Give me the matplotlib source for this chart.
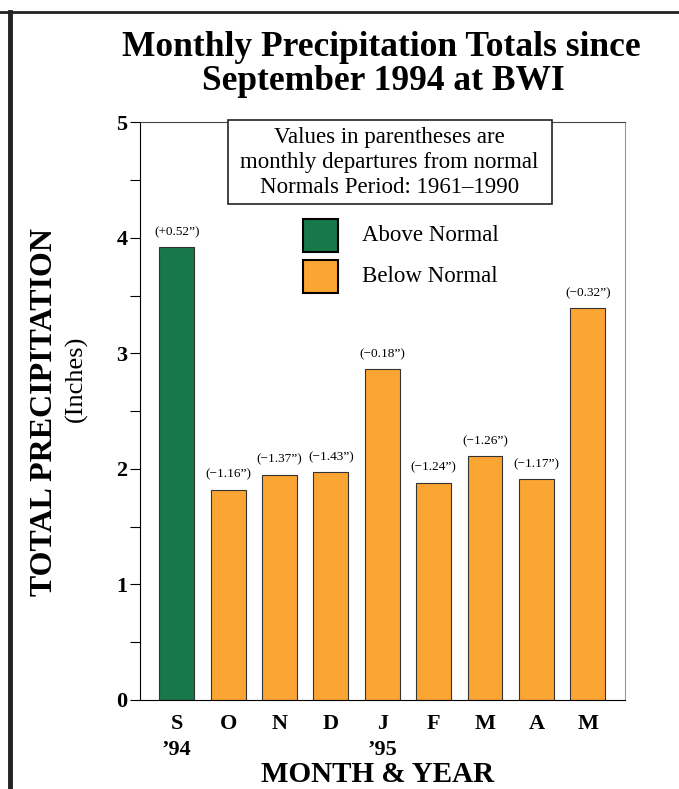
import matplotlib.pyplot as plt
from matplotlib.lines import Line2D
from matplotlib.patches import Rectangle

months = ['S', 'O', 'N', 'D', 'J', 'F', 'M', 'A', 'M']
years = {0: "\u201994", 4: "\u201995"}
totals = [3.92, 1.82, 1.95, 1.97, 2.86, 1.88, 2.11, 1.91, 3.39]
departures = ['+0.52', '\u22121.16', '\u22121.37', '\u22121.43', '\u22120.18',
              '\u22121.24', '\u22121.26', '\u22121.17', '\u22120.32']
above = [True, False, False, False, False, False, False, False, False]
note = ['Values in parentheses are', 'monthly departures from normal',
        'Normals Period: 1961\u20131990']

green = '#17784a'
orange = '#fba533'
serif = ['Liberation Serif', 'DejaVu Serif']

fig = plt.figure(figsize=(6.79, 7.89), dpi=100)
ax = fig.add_axes([0.206, 0.113, 0.714, 0.732])

x = list(range(len(months)))
cols = [green if a else orange for a in above]
bars = ax.bar(x, totals, width=0.68, color=cols, edgecolor='#333333', linewidth=0.8)

for b, d in zip(bars, departures):
    ax.text(b.get_x() + b.get_width() / 2, b.get_height() + 0.13, '(' + d + '\u201d)',
            ha='center', va='center', fontsize=9.5, family=serif)

ax.set_xlim(-0.72, 8.72)
ax.set_ylim(0, 5)
ax.set_yticks([0, 1, 2, 3, 4, 5])
ax.set_yticks([0.5, 1.5, 2.5, 3.5, 4.5], minor=True)
ax.set_yticklabels(['0', '1', '2', '3', '4', '5'], fontsize=16, fontweight='bold', family=serif)
ax.tick_params(axis='y', which='both', length=7, width=0.8, pad=2)
ax.set_xticks(x)
ax.set_xticklabels(months, fontsize=16, fontweight='bold', family=serif)
ax.tick_params(axis='x', length=0, pad=10)
for i, yr in years.items():
    ax.text(i, -0.43, yr, ha='center', va='center', fontsize=16, fontweight='bold',
            family=serif)
ax.text(3.9, -0.715, 'MONTH & YEAR', ha='center', va='baseline', fontsize=21,
        fontweight='bold', family=serif, clip_on=False)
ax.spines['top'].set_color('#444444')
ax.spines['right'].set_color('#999999')

fig.text(0.065, 0.478, 'TOTAL PRECIPITATION', rotation=90, ha='center', va='center',
         fontsize=23, fontweight='bold', family=serif)
fig.text(0.112, 0.52, '(Inches)', rotation=90, ha='center', va='center',
         fontsize=19, family=serif)

# note box
ax.add_patch(Rectangle((0.99, 4.29), 6.31, 0.73, fc='white', ec='#222222', lw=1.2,
                       clip_on=False, zorder=3))
for yy, line in zip([4.82, 4.60, 4.39], note):
    ax.text(4.14, yy, line, ha='center', va='baseline', fontsize=16.5, family=serif,
            zorder=4)

# legend squares
for yy, c, lab in [(4.02, green, 'Above Normal'), (3.665, orange, 'Below Normal')]:
    ax.add_patch(Rectangle((2.45, yy - 0.143), 0.68, 0.286, fc=c, ec='black', lw=1.5))
    ax.text(3.6, yy, lab, va='center', ha='left', fontsize=16.5, family=serif)

fig.text(0.562, 0.929, 'Monthly Precipitation Totals since', ha='center',
         va='baseline', fontsize=25.5, fontweight='bold', family=serif)
fig.text(0.564, 0.886, 'September 1994 at BWI', ha='center',
         va='baseline', fontsize=25.5, fontweight='bold', family=serif)

# page frame
fig.add_artist(Line2D([0, 1], [0.985, 0.985], color='#222222', lw=2))
fig.add_artist(Line2D([0.014, 0.014], [0, 0.985], color='#222222', lw=3.5))

fig.savefig('out.png', dpi=100)
